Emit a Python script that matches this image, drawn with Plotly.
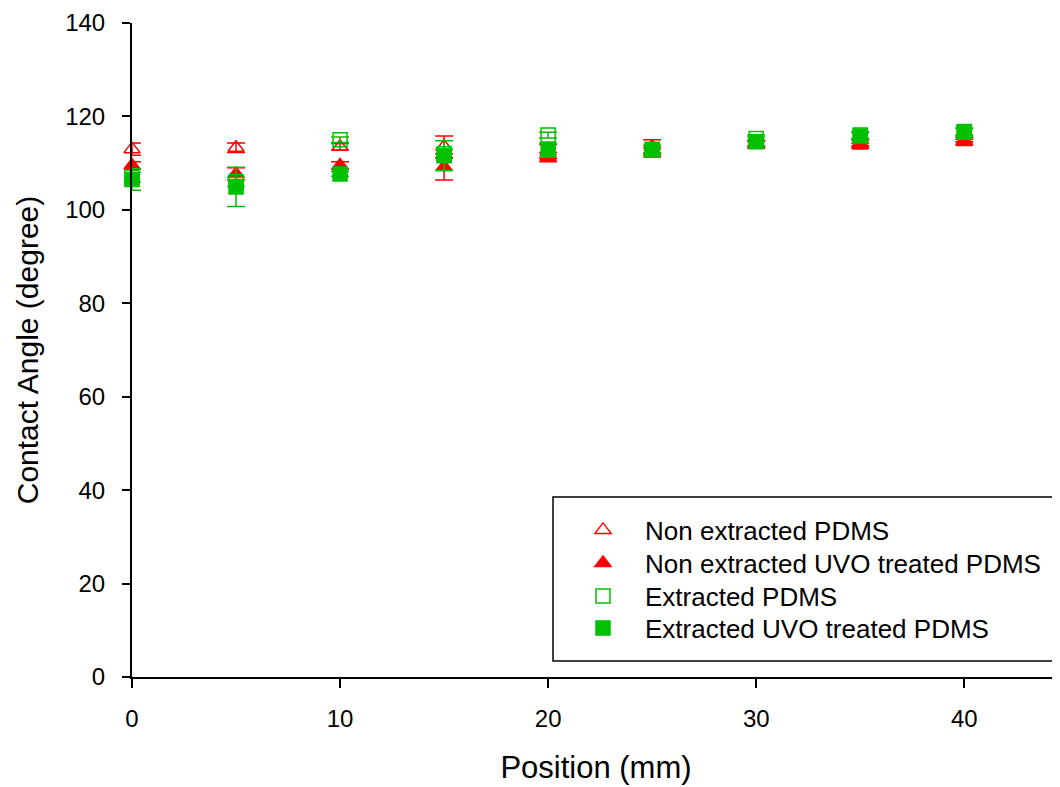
import plotly.graph_objects as go

positions = [0, 5, 10, 15, 20, 25, 30, 35, 40]

non_ext = [113.0, 113.3, 113.5, 113.5, 112.5, 113.5, 114.0, 114.3, 115.0]
non_ext_err = [1.3, 1.0, 0.7, 2.3, 1.5, 1.5, 0.8, 0.6, 0.5]

non_ext_uvo = [109.5, 107.7, 109.5, 109.2, 111.3, 112.3, 114.3, 113.8, 114.5]
non_ext_uvo_err = [0.8, 1.3, 0.8, 2.8, 1.0, 1.0, 0.6, 0.5, 0.6]

ext = [107.0, 106.0, 115.0, 112.0, 116.0, 113.0, 115.3, 116.0, 116.8]
ext_err = [1.0, 1.0, 0.6, 1.0, 0.6, 0.8, 0.7, 0.7, 0.7]

ext_uvo = [106.5, 104.9, 107.7, 111.6, 112.8, 112.8, 114.6, 115.8, 116.6]
ext_uvo_err = [2.3, 4.2, 0.5, 3.2, 1.5, 1.0, 1.0, 0.7, 0.8]

RED = "#FF0000"
GREEN = "#00C000"

series = [
    ("Non extracted PDMS", non_ext, non_ext_err, "triangle-up-open", RED),
    ("Non extracted UVO treated PDMS", non_ext_uvo, non_ext_uvo_err, "triangle-up", RED),
    ("Extracted PDMS", ext, ext_err, "square-open", GREEN),
    ("Extracted UVO treated PDMS", ext_uvo, ext_uvo_err, "square", GREEN),
]

# page offset (body margin) = 8px
W, H = 1052, 779
L, T = 124, 15
PW, PH = 928, 654

legend_names = ["legend", "legend2", "legend3", "legend4"]
row_centers = [530, 563, 596, 628]  # screenshot pixel rows

fig = go.Figure()
for (name, vals, errs, sym, col), lg in zip(series, legend_names):
    fig.add_trace(go.Scatter(
        x=positions, y=vals, name=name, mode="markers", legend=lg,
        marker=dict(symbol=sym, size=14, color=col, line=dict(color=col, width=1.5)),
        error_y=dict(type="data", array=errs, visible=True, color=col, thickness=1.5, width=9),
        cliponaxis=False,
    ))

legend_x = (603 - 42 - 132) / PW
layout_legends = {}
for lg, yc in zip(legend_names, row_centers):
    layout_legends[lg] = dict(
        x=legend_x, y=(677 - yc) / PH, xanchor="left", yanchor="middle",
        bgcolor="rgba(0,0,0,0)", borderwidth=0,
        font=dict(size=26), itemwidth=74,
    )

fig.update_layout(
    width=W, height=H,
    margin=dict(l=L, r=0, t=T, b=H - T - PH),
    paper_bgcolor="white", plot_bgcolor="white",
    font=dict(family="Liberation Sans, Arial", size=24, color="black"),
    showlegend=True,
    shapes=[dict(type="rect", xref="paper", yref="paper",
                 x0=(553 - 132) / PW, x1=(1057 - 132) / PW,
                 y0=(677 - 661) / PH, y1=(677 - 497) / PH,
                 line=dict(color="black", width=1.5), fillcolor="rgba(0,0,0,0)")],
    **layout_legends,
)

fig.update_xaxes(
    range=[0, 44.6], tickmode="array", tickvals=[0, 10, 20, 30, 40],
    showline=True, linecolor="black", linewidth=2, mirror=False,
    ticks="outside", ticklen=9, tickwidth=2, tickcolor="black",
    showgrid=False, zeroline=False, ticklabelstandoff=10,
    title=dict(text="Position (mm)", font=dict(size=31), standoff=26),
    tickfont=dict(size=24),
)
fig.update_yaxes(
    range=[0, 140], tickmode="array", tickvals=[0, 20, 40, 60, 80, 100, 120, 140],
    showline=True, linecolor="black", linewidth=2, mirror=False,
    ticks="outside", ticklen=8, tickwidth=2, tickcolor="black",
    showgrid=False, zeroline=False, ticklabelstandoff=12,
    title=dict(text="Contact Angle (degree)", font=dict(size=30), standoff=18),
    tickfont=dict(size=24),
)

fig.write_html("out.html")
